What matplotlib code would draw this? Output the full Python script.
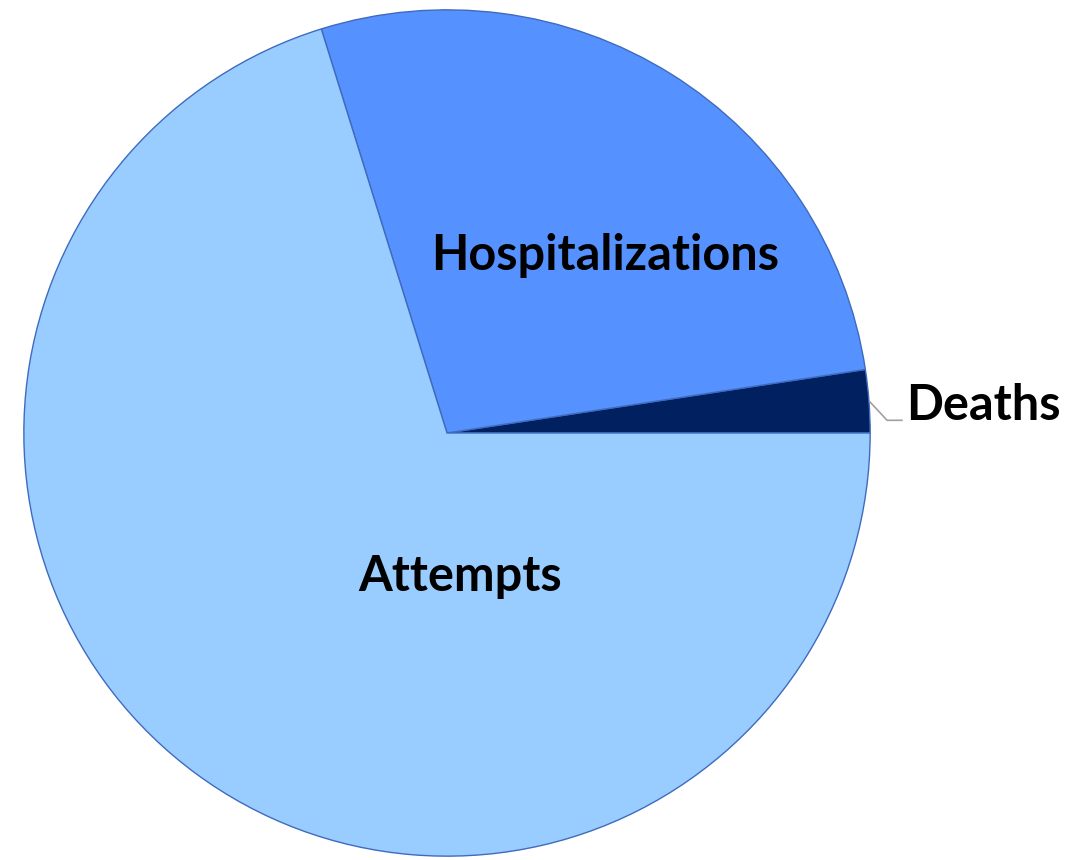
import matplotlib
matplotlib.use("Agg")
import matplotlib.pyplot as plt

labels = ["Deaths", "Hospitalizations", "Attempts"]
shares = [2.4, 27.4, 70.2]
colors = ["#002060", "#5591FF", "#99CCFF"]

W, H = 1071, 860
cx, cy, r = 447, 433, 424

fig = plt.figure(figsize=(W / 100, H / 100), dpi=100)
ax = fig.add_axes([(cx - r) / W, (H - cy - r) / H, 2 * r / W, 2 * r / H])

wedges, _ = ax.pie(shares, colors=colors, startangle=0, counterclock=True,
                   radius=1.0, wedgeprops=dict(edgecolor="#3f6bbf", linewidth=1.0))
ax.set_xlim(-1.002, 1.002)
ax.set_ylim(-1.002, 1.002)
ax.set_aspect("equal")
ax.axis("off")

font = dict(family=["Lato", "DejaVu Sans"], fontweight="bold", color="black", fontsize=35)
ax.text(0.373, 0.42, labels[1], ha="center", va="center", **font)
ax.text(0.031, -0.34, labels[2], ha="center", va="center", **font)
ax.text(1.085, 0.066, labels[0], ha="left", va="center", **font)

# leader line for Deaths
ax.plot([1.0, 1.04, 1.075], [0.073, 0.03, 0.03], color="#a0a0a0", lw=1.2, clip_on=False)

fig.savefig("out.png", dpi=100)
